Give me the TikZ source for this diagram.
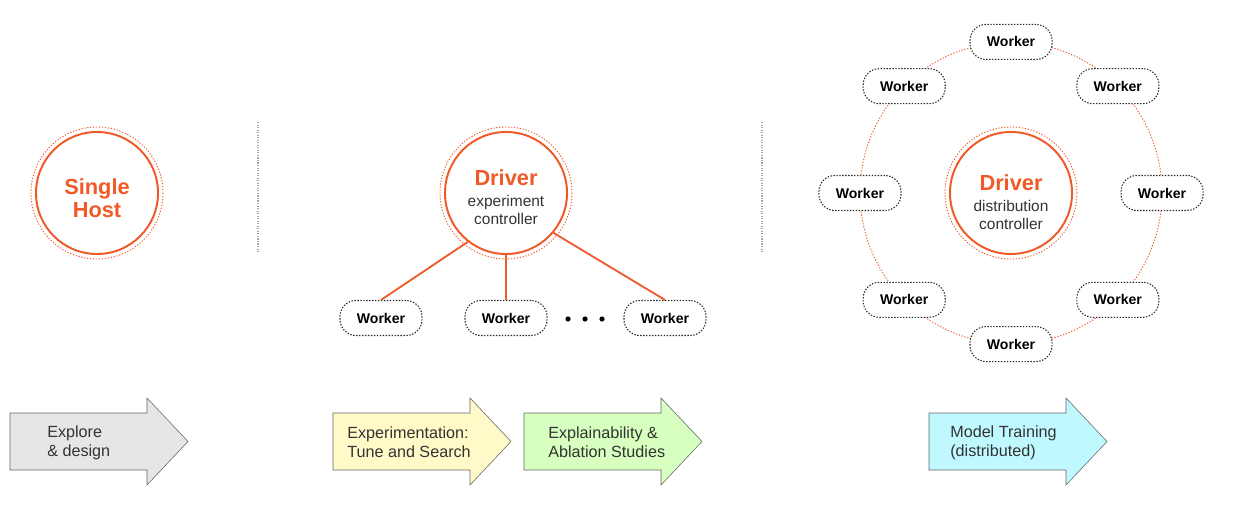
\documentclass[tikz,border=0pt]{standalone}
\usepackage{fontspec}
\setmainfont{Liberation Sans}
\usepackage{xcolor}

\definecolor{hopsorange}{RGB}{240,90,40}
\definecolor{textgray}{RGB}{51,51,51}
\definecolor{stagegray}{RGB}{230,230,230}
\definecolor{stageyellow}{RGB}{255,250,200}
\definecolor{stagegreen}{RGB}{214,255,192}
\definecolor{stagecyan}{RGB}{192,248,255}

\tikzset{
  worker/.style={draw=black!85, dash pattern=on 1pt off 1.1pt, line width=0.75pt, rounded corners=0.4cm,
    fill=white, minimum width=2.05cm, minimum height=0.875cm, inner sep=0pt,
    font=\fontsize{10}{11}\selectfont\bfseries},
  hub/.style={circle, draw=hopsorange, line width=1.4pt, minimum size=3.05cm, inner sep=0pt},
  hubtext/.style={align=center, text=textgray, inner sep=0pt, font=\fontsize{11}{12.8}\selectfont},
  halo/.style={draw=hopsorange, dash pattern=on 0.9pt off 1.2pt, line width=0.65pt},
  link/.style={draw=hopsorange, line width=1.3pt},
  divider/.style={draw=gray!70, densely dotted, line width=0.8pt},
  stage/.style={draw=gray!80!black, line width=0.4pt},
  stagetext/.style={anchor=west, align=left, text=textgray, inner sep=0pt,
    font=\fontsize{11.5}{13.5}\selectfont},
}

% arrow shape of a stage: left x, fill
\newcommand{\stagearrow}[2]{%
  \draw[stage, fill=#2] (#1,413) -- ++(137,0) -- ++(0,-15) -- ++(41,43.5)
    -- ++(-41,43.5) -- ++(0,-15) -- ++(-137,0) -- cycle;}
\newcommand{\drivertitle}{{\fontsize{15.5}{16}\selectfont\bfseries\color{hopsorange}Driver}}

\begin{document}
\begin{tikzpicture}[x=0.025cm, y=-0.025cm]
\useasboundingbox (0,0) rectangle (1233,518);

% single host
\node[hub] (host) at (97,193) {};
\draw[halo] (host.center) circle (1.65cm);
\node[hubtext, text=hopsorange, font=\fontsize{15.5}{16.4}\selectfont\bfseries] (hostlabel) at (97,198) {Single\\Host};

\draw[divider] (258,122) -- (258,252);
\draw[divider] (762,122) -- (762,252);

% experiment driver
\node[hub] (drv) at (506,193) {};
\draw[halo] (drv.center) circle (1.65cm);
\node[hubtext] (drvlabel) at (506,197) {\drivertitle\\[2pt] experiment\\controller};

\node[worker] (w1) at (381,318) {Worker};
\node[worker] (w2) at (506,318) {Worker};
\node[worker] (w3) at (665,318) {Worker};
\draw[link] (drv.-128) -- (w1.north);
\draw[link] (drv.south) -- (w2.north);
\draw[link] (drv.-40) -- (w3.north);
\foreach \x in {568,585,602}
  \fill (\x,319) circle (0.065cm);

% distributed driver
\node[hub] (dist) at (1011,193) {};
\draw[halo] (dist.center) circle (1.65cm);
\draw[halo] (dist.center) circle (3.775cm);
\node[hubtext] (distlabel) at (1011,202) {\drivertitle\\[2pt] distribution\\controller};
\foreach \a [count=\i] in {90,45,...,-225}
  \node[worker] (r\i) at ([shift={(\a:3.775cm)}]dist.center) {Worker};

% stages
\stagearrow{10}{stagegray}
\stagearrow{333}{stageyellow}
\stagearrow{524}{stagegreen}
\stagearrow{929}{stagecyan}
\node[stagetext] (explore) at (47,442.5) {Explore\\\& design};
\node[stagetext] (tune) at (347,442.5) {Experimentation:\\Tune and Search};
\node[stagetext] (ablation) at (548,442.5) {Explainability \&\\Ablation Studies};
\node[stagetext] (training) at (950,442.5) {Model Training\\(distributed)};

\end{tikzpicture}
\end{document}
